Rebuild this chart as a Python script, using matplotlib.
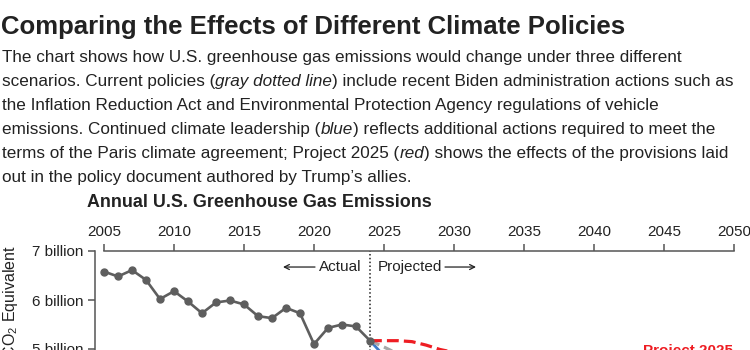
import matplotlib as mpl

mpl.rcParams["font.family"] = ["Liberation Sans", "DejaVu Sans"]
mpl.rcParams["mathtext.fontset"] = "custom"
mpl.rcParams["mathtext.rm"] = "Liberation Sans"
mpl.rcParams["mathtext.it"] = "Liberation Sans:italic"

import matplotlib.pyplot as plt

# actual emissions (billion t CO2e)
years_actual = list(range(2005, 2025))
emis_actual = [6.58, 6.48, 6.61, 6.41, 6.02, 6.18, 5.97, 5.73, 5.95, 5.99,
               5.91, 5.67, 5.63, 5.84, 5.73, 5.10, 5.43, 5.50, 5.46, 5.17]

# projections
years_proj = [2024, 2025, 2026, 2027, 2028, 2029, 2030, 2035, 2040, 2045, 2050]
proj_current = [5.17, 5.04, 4.90, 4.75, 4.60, 4.45, 4.30, 3.90, 3.70, 3.60, 3.50]
proj_climate = [5.17, 4.86, 4.55, 4.25, 3.95, 3.65, 3.35, 2.40, 1.60, 1.00, 0.50]
proj_p2025 = [5.17, 5.17, 5.17, 5.15, 5.08, 4.99, 4.93, 4.85, 4.80, 4.75, 4.70]

xticks = [2005, 2010, 2015, 2020, 2025, 2030, 2035, 2040, 2045, 2050]
yticks = [5, 6, 7]
ytick_labels = ["5 billion", "6 billion", "7 billion"]

title = "Comparing the Effects of Different Climate Policies"
# each line: list of (text, italic?)
body = [
    [("The chart shows how U.S. greenhouse gas emissions would change under three different", False)],
    [("scenarios. Current policies (", False), ("gray dotted line", True),
     (") include recent Biden administration actions such as", False)],
    [("the Inflation Reduction Act and Environmental Protection Agency regulations of vehicle", False)],
    [("emissions. Continued climate leadership (", False), ("blue", True),
     (") reflects additional actions required to meet the", False)],
    [("terms of the Paris climate agreement; Project 2025 (", False), ("red", True),
     (") shows the effects of the provisions laid", False)],
    [("out in the policy document authored by Trump\u2019s allies.", False)],
]

TXT = "#222222"
AXC = "#555555"
RED = "#ee1d23"
BLUE = "#3f7ac8"
GRAY = "#5e5e5e"
LGRAY = "#a8a8a8"

W, H = 750, 350


def fx(px):
    return px / W


def fy(py):
    return 1 - py / H


fig = plt.figure(figsize=(7.5, 3.5), dpi=100)
renderer = fig.canvas.get_renderer()

fig.text(fx(1), fy(34), title, fontsize=18.5, fontweight="bold", color=TXT, va="baseline")
for i, parts in enumerate(body):
    x = 2
    for txt, ital in parts:
        t = fig.text(fx(x), fy(62 + 24 * i), txt, fontsize=12.3, color=TXT, va="baseline",
                     style="italic" if ital else "normal")
        x += t.get_window_extent(renderer).width

fig.text(fx(87), fy(207), "Annual U.S. Greenhouse Gas Emissions", fontsize=12.9,
         fontweight="bold", color=TXT, va="baseline")

fig.text(fx(11), fy(245), r"Metric Tons of CO$_\mathrm{2}$ Equivalent", rotation=90,
         fontsize=11.5, color=TXT, va="top", ha="center")

# axes: 14 px per year (2005 at x=104), 49 px per billion (7 at y=251)
ax = fig.add_axes([fx(95), fy(594), (740 - 95) / W, (594 - 251) / H])
ax.set_xlim(2005 - 9 / 14, 2005 + (740 - 104) / 14)
ax.set_ylim(0, 7)
ax.patch.set_alpha(0)

ax.plot(years_proj, proj_climate, color=BLUE, lw=2.0, zorder=3)
ax.plot(years_proj, proj_current, color=LGRAY, lw=2.3, dashes=(3.2, 1.6), zorder=3)
ax.plot(years_proj, proj_p2025, color=RED, lw=2.3, dashes=(3.7, 1.6), zorder=3)
ax.plot(years_actual, emis_actual, color=GRAY, lw=1.9, marker="o", ms=5, zorder=4)

ax.axvline(2024, color=TXT, lw=1.1, ls=(0, (1, 1.5)), zorder=2)

ax.text(2005 + (361 - 104) / 14, 6.673, "Actual", fontsize=11, color=TXT,
        ha="right", va="center")
ax.text(2005 + (378 - 104) / 14, 6.673, "Projected", fontsize=11, color=TXT,
        ha="left", va="center")
arrow = dict(arrowstyle="->", color=TXT, lw=0.9, mutation_scale=9, shrinkA=0, shrinkB=0)
ax.annotate("", xy=(2005 + (283 - 104) / 14, 6.673), xytext=(2005 + (315 - 104) / 14, 6.673),
            arrowprops=arrow)
ax.annotate("", xy=(2005 + (476 - 104) / 14, 6.673), xytext=(2005 + (445 - 104) / 14, 6.673),
            arrowprops=arrow)

ax.text(2005 + (643 - 104) / 14, 4.878, "Project 2025", fontsize=11, fontweight="bold",
        color=RED, va="baseline")

for s in ["bottom", "right"]:
    ax.spines[s].set_visible(False)
ax.spines["top"].set_bounds(2005, 2050)
ax.spines["left"].set_bounds(0, 7)
for s in ["top", "left"]:
    ax.spines[s].set_color(AXC)
    ax.spines[s].set_linewidth(1.1)

ax.xaxis.tick_top()
ax.set_xticks(xticks)
ax.set_xticklabels([str(x) for x in xticks])
ax.set_yticks(yticks)
ax.set_yticklabels(ytick_labels)
ax.tick_params(axis="x", direction="out", length=5, width=1.1, color=AXC,
               labelsize=11, labelcolor=TXT, pad=3.5)
ax.tick_params(axis="y", direction="out", length=5, width=1.1, color=AXC,
               labelsize=11, labelcolor=TXT, pad=3.5)

fig.savefig("out.png", dpi=100)
